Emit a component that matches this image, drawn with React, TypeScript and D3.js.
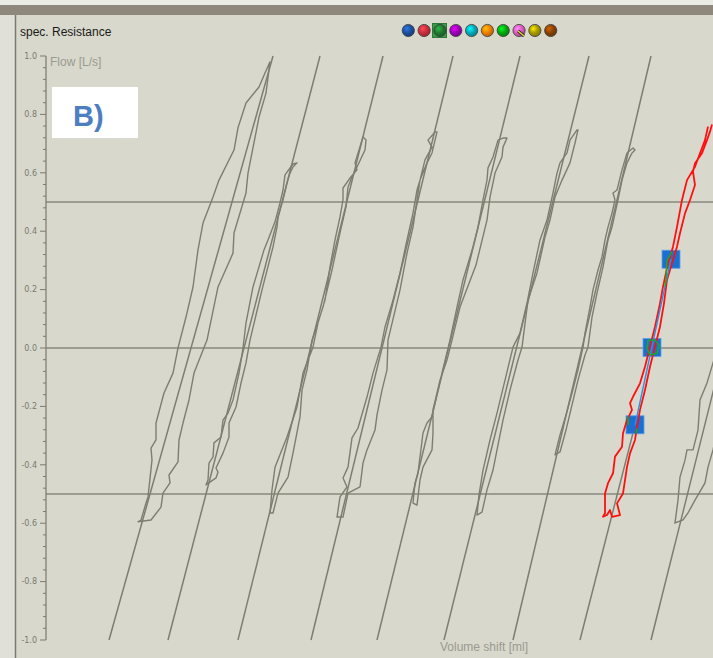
import React from "react";
import * as d3 from "d3";

// ---- data (volume shift in arbitrary ml units, flow in L/s) ----
const yTickValues = [1.0, 0.8, 0.6, 0.4, 0.2, 0.0, -0.2, -0.4, -0.6, -0.8, -1.0];
const gridFlows = [0.5, 0.0, -0.5];
const legendColors = ["#1d4f9e", "#cc2f3c", "#1f7a30", "#9c00b8", "#00aab8", "#ee7f00", "#00a810", "#e05cc0", "#a89a00", "#8a4200"];

// resistance fit lines: volume at flow -1 and flow +1
const fitBottomVol = [63, 122, 192, 265, 331, 398, 467, 605];
const fitTopVol = [227, 274, 337, 407, 474, 543, 605, 751];

const loop1: [number, number][] = [[224,0.98],[219,0.942],[213,0.894],[200,0.839],[192,0.754],[188,0.678],[173,0.575],[167,0.517],[157,0.428],[152,0.336],[147,0.209],[140,0.106],[132,0],[127,-0.086],[118,-0.154],[110,-0.257],[110,-0.315],[105,-0.343],[106,-0.384],[102,-0.51],[100,-0.531],[95,-0.589],[92,-0.595],[105,-0.589],[115,-0.545],[117,-0.497],[124,-0.462],[123,-0.435],[132,-0.39],[133,-0.315],[137,-0.257],[143,-0.178],[148,-0.086],[161,0.027],[172,0.209],[187,0.325],[188,0.394],[200,0.531],[202,0.599],[213,0.791],[220,0.873]];
const loop2: [number, number][] = [[247,0.63],[239,0.593],[237,0.541],[234,0.497],[229,0.432],[222,0.37],[218,0.336],[207,0.209],[200,0.086],[197,0],[193,-0.086],[187,-0.178],[182,-0.223],[177,-0.247],[175,-0.305],[168,-0.325],[167,-0.373],[163,-0.394],[162,-0.452],[160,-0.469],[170,-0.445],[172,-0.425],[170,-0.411],[177,-0.36],[183,-0.305],[183,-0.257],[190,-0.202],[195,-0.12],[200,-0.051],[204,0.027],[216,0.199],[227,0.346],[231,0.414],[232,0.449],[237,0.507],[241,0.565],[244,0.599],[247,0.62],[251,0.634]];
const loop3: [number, number][] = [[317,0.723],[309,0.634],[311,0.61],[304,0.582],[297,0.548],[297,0.507],[294,0.449],[289,0.37],[284,0.277],[279,0.164],[272,0.086],[267,0.003],[257,-0.086],[251,-0.202],[241,-0.305],[237,-0.339],[229,-0.408],[226,-0.486],[224,-0.565],[227,-0.565],[232,-0.497],[242,-0.442],[247,-0.36],[254,-0.236],[256,-0.144],[261,-0.075],[266,0.027],[277,0.14],[286,0.267],[294,0.394],[300,0.483],[302,0.551],[306,0.586],[311,0.62],[319,0.678],[320,0.712]];
const loop4: [number, number][] = [[389,0.74],[382,0.712],[386,0.688],[379,0.644],[374,0.575],[371,0.541],[367,0.462],[361,0.37],[354,0.257],[347,0.164],[339,0.072],[335,0.003],[327,-0.086],[321,-0.168],[312,-0.274],[306,-0.308],[302,-0.408],[297,-0.445],[301,-0.476],[294,-0.51],[291,-0.579],[297,-0.579],[302,-0.497],[314,-0.476],[317,-0.394],[321,-0.349],[329,-0.281],[331,-0.229],[336,-0.144],[341,-0.075],[342,0.027],[354,0.199],[361,0.325],[367,0.414],[371,0.507],[374,0.575],[381,0.634],[386,0.668],[391,0.74]];
const loop5: [number, number][] = [[461,0.719],[457,0.719],[452,0.712],[447,0.654],[442,0.617],[441,0.575],[437,0.507],[432,0.414],[427,0.346],[417,0.233],[411,0.14],[404,0.027],[396,-0.086],[389,-0.188],[386,-0.236],[381,-0.257],[377,-0.291],[372,-0.428],[369,-0.462],[367,-0.531],[371,-0.538],[374,-0.452],[377,-0.408],[386,-0.349],[387,-0.291],[387,-0.212],[394,-0.11],[401,-0.041],[406,0.027],[414,0.14],[430,0.284],[441,0.438],[444,0.517],[449,0.599],[456,0.654],[457,0.688]];
const loop6: [number, number][] = [[531,0.747],[524,0.712],[521,0.668],[514,0.634],[511,0.599],[507,0.531],[501,0.438],[494,0.37],[487,0.257],[481,0.154],[474,0.051],[467,0.003],[459,-0.11],[451,-0.223],[444,-0.315],[437,-0.418],[433,-0.503],[431,-0.572],[436,-0.562],[441,-0.486],[447,-0.418],[452,-0.332],[457,-0.247],[464,-0.144],[472,-0.041],[476,0.003],[482,0.164],[491,0.257],[499,0.38],[504,0.438],[509,0.517],[516,0.575],[524,0.634],[529,0.702],[532,0.747]];
const loop7: [number, number][] = [[587,0.685],[581,0.668],[576,0.61],[571,0.541],[567,0.531],[569,0.507],[566,0.462],[562,0.414],[559,0.37],[556,0.312],[552,0.267],[547,0.199],[544,0.14],[539,0.051],[537,0.003],[532,-0.075],[526,-0.154],[520,-0.229],[514,-0.298],[509,-0.366],[514,-0.356],[520,-0.281],[526,-0.195],[532,-0.11],[539,-0.024],[542,0.003],[546,0.106],[551,0.188],[557,0.277],[562,0.37],[566,0.414],[572,0.507],[576,0.575],[581,0.634],[586,0.668],[589,0.678]];
const loop9: [number, number][] = [[674,0.027],[667,-0.051],[661,-0.12],[654,-0.178],[652,-0.281],[647,-0.349],[641,-0.349],[639,-0.384],[634,-0.442],[632,-0.521],[629,-0.599],[637,-0.589],[642,-0.565],[649,-0.521],[659,-0.462],[662,-0.408],[667,-0.349],[674,-0.247]];
const redLoop: [number, number][] = [[662,0.758],[659,0.712],[654,0.667],[649,0.621],[641,0.575],[636,0.507],[631,0.415],[627,0.347],[622,0.29],[617,0.21],[614,0.153],[609,0.073],[604,0.004],[599,-0.064],[594,-0.121],[587,-0.167],[584,-0.189],[586,-0.212],[581,-0.247],[577,-0.292],[576,-0.338],[569,-0.372],[567,-0.429],[562,-0.463],[559,-0.498],[559,-0.566],[557,-0.578],[561,-0.572],[564,-0.555],[566,-0.578],[574,-0.572],[571,-0.532],[577,-0.498],[581,-0.407],[584,-0.361],[589,-0.315],[591,-0.27],[594,-0.212],[599,-0.144],[604,-0.064],[609,0.004],[614,0.073],[618,0.153],[621,0.233],[626,0.29],[631,0.347],[634,0.393],[639,0.461],[644,0.507],[649,0.558],[647,0.604],[649,0.633],[656,0.667],[661,0.712],[664,0.741],[666,0.765]];
const greenA: [number, number][] = [[626,0.33],[621,0.301],[620,0.233],[619,0.21]];
const greenB: [number, number][] = [[602,0.027],[601,-0.001],[604,-0.024],[611,-0.018],[613,0.01],[609,0.027],[602,0.027]];
const greenC1: [number, number][] = [[582,-0.235],[582,-0.264]];
const greenC2: [number, number][] = [[591,-0.275],[590,-0.292]];
const blueFit: [number, number][] = [[589,-0.264],[625,0.305]];
const grayLine8: [number, number][] = [[534,-1],[589,-0.264]];
const markers: [number, number][] = [[625,0.304],[606,0.002],[589,-0.263]];

const grayLoops = [loop1, loop2, loop3, loop4, loop5, loop6, loop7];

export default function App() {
  const W = 713, H = 658;
  const x = d3.scaleLinear().domain([0, 667]).range([46, 713]);
  const y = d3.scaleLinear().domain([-1, 1]).range([640, 56]);
  const line = d3.line<[number, number]>().x(d => x(d[0])).y(d => y(d[1]));
  const minorTicks = d3.range(0, 51).map(i => -1 + i * 0.04);
  const gray = "#7e7e70";
  const legendX = d3.scaleLinear().domain([0, 9]).range([408.3, 550.7]);

  return (
    <svg width={W} height={H} style={{ position: "absolute", left: 0, top: 0, fontFamily: "Liberation Sans, Arial, sans-serif" }}>
      <defs>
        <clipPath id="plotclip"><rect x={47} y={40} width={666} height={610} /></clipPath>
        {legendColors.map((c, i) => (
          <radialGradient key={i} id={"lg" + i} cx="0.38" cy="0.35" r="0.7">
            <stop offset="0" stopColor={d3.color(c)!.brighter(1.2).formatHex()} />
            <stop offset="0.5" stopColor={c} />
            <stop offset="1" stopColor={d3.color(c)!.darker(0.8).formatHex()} />
          </radialGradient>
        ))}
      </defs>
      <rect x={0} y={0} width={W} height={H} fill="#d8d8cc" />
      <rect x={0} y={0} width={W} height={5} fill="#ebebe6" />
      <rect x={0} y={5} width={W} height={10} fill="#8e877b" />
      <rect x={0} y={15} width={15} height={H - 15} fill="#e0e0d8" />
      <line x1={15.5} y1={15} x2={15.5} y2={H} stroke="#7a7a70" strokeWidth={1.5} />

      <text x={20} y={36} fontSize={12} fill="#1a1a1a">spec. Resistance</text>

      {legendColors.map((c, i) => (
        <g key={i}>
          {i === 2 && <rect x={432.5} y={23.5} width={14} height={14} fill="#3c9c4c" stroke="#2a7a36" />}
          <circle cx={legendX(i)} cy={30.5} r={6.1} fill={`url(#lg${i})`} stroke="#3a3a3a" strokeWidth={0.8} />
          {i === 7 && (
            <g>
              <line x1={legendX(i) - 1} y1={31} x2={legendX(i) + 5} y2={36} stroke="#222" strokeWidth={3} />
              <line x1={legendX(i) - 1} y1={31} x2={legendX(i) + 5} y2={36} stroke="#f0d040" strokeWidth={1.6} />
            </g>
          )}
        </g>
      ))}

      {/* grid lines */}
      {gridFlows.map(f => (
        <line key={f} x1={46} x2={713} y1={y(f)} y2={y(f)} stroke="#8a8a7b" strokeWidth={1.5} />
      ))}

      {/* y axis */}
      <line x1={46} x2={46} y1={y(1)} y2={y(-1)} stroke="#7a7a70" strokeWidth={1.2} />
      {minorTicks.map((t, i) => (
        <line key={i} x1={i % 5 === 0 ? 40 : 43} x2={46} y1={y(t)} y2={y(t)} stroke="#7a7a70" strokeWidth={1} />
      ))}
      {yTickValues.map(t => (
        <text key={t} x={37} y={y(t)} dy="0.35em" textAnchor="end" fontSize={8} fontFamily="DejaVu Sans, sans-serif" fill="#7a7a70">
          {t.toFixed(1)}
        </text>
      ))}
      <text x={50} y={66} fontSize={12} fill="#9a9a90">Flow [L/s]</text>
      <text x={440} y={651} fontSize={12} fill="#9a9a90">Volume shift [ml]</text>

      <g clipPath="url(#plotclip)">
        {fitBottomVol.map((b, i) => (
          <path key={"fit" + i} d={line([[b, -1], [fitTopVol[i], 1]])!} stroke={gray} strokeWidth={1.5} fill="none" />
        ))}
        <path d={line(grayLine8)!} stroke={gray} strokeWidth={1.5} fill="none" />
        {grayLoops.map((lp, i) => (
          <path key={"lp" + i} d={line(lp)! + "Z"} stroke={gray} strokeWidth={1.4} fill="none" strokeLinejoin="round" />
        ))}
        <path d={line(loop9)!} stroke={gray} strokeWidth={1.4} fill="none" />
        {markers.map((m, i) => (
          <rect key={"m" + i} x={x(m[0]) - 9} y={y(m[1]) - 9} width={18} height={18} fill="#1c6fd0" stroke="#5aa0e8" strokeWidth={0.8} />
        ))}
        <path d={line(redLoop)!} stroke="#ff1010" strokeWidth={1.8} fill="none" strokeLinejoin="round" />
        <path d={line(blueFit)!} stroke="#2a90e8" strokeWidth={1.4} fill="none" />
        {[greenA, greenB, greenC1, greenC2].map((g, i) => (
          <path key={"g" + i} d={line(g)!} stroke="#10b020" strokeWidth={1.4} fill="none" />
        ))}
      </g>

      <rect x={52} y={87} width={86} height={51} fill="#ffffff" />
      <text x={73} y={126} fontSize={29} fontWeight="bold" fill="#4d7ebf">B)</text>
    </svg>
  );
}
